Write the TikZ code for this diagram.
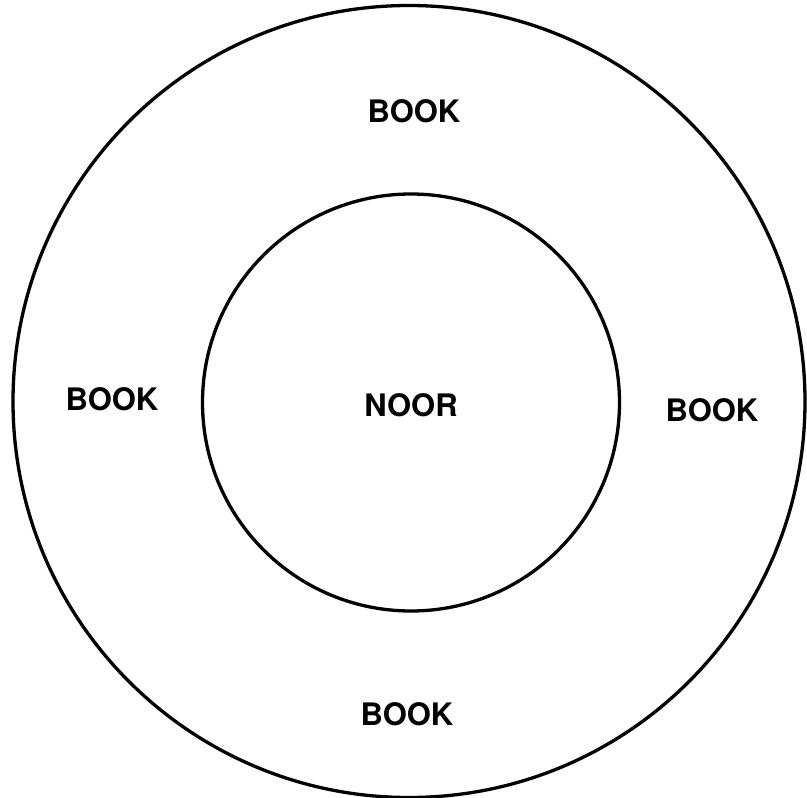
\documentclass[tikz,border=0pt]{standalone}
\usepackage{fontspec}
\setmainfont{TeX Gyre Heros}
\begin{document}
\begin{tikzpicture}[x=1pt,y=-1pt,
  ring/.style={draw=black,line width=3.3pt,circle,inner sep=0pt},
  lbl/.style={font=\fontsize{31}{31}\selectfont\bfseries,inner sep=0pt}]
\useasboundingbox (0,0) rectangle (807,798);
\node[ring,minimum size=792pt] (outer) at (409,401.5) {};
\node[ring,minimum size=417pt] (inner) at (411,402.5) {};
\node[lbl] (noor) at (411,405) {NOOR};
\node[lbl] (btop) at (414,111) {BOOK};
\node[lbl] (bleft) at (112,399) {BOOK};
\node[lbl] (bright) at (712,410) {BOOK};
\node[lbl] (bbot) at (407,714) {BOOK};
\end{tikzpicture}
\end{document}
